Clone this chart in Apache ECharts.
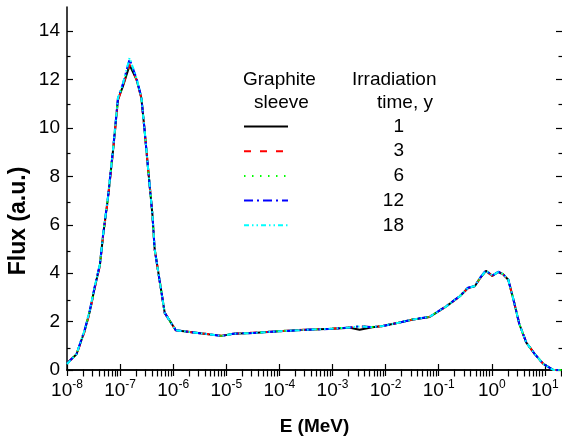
<!DOCTYPE html>
<html><head><meta charset="utf-8">
<script src="https://cdn.jsdelivr.net/npm/echarts@6/dist/echarts.min.js"></script>
<style>html,body{margin:0;padding:0;background:#fff}#c{width:562px;height:441px}</style>
</head><body><div id="c"></div>
<script>
// Energy (MeV)
const energy = [1.0e-8, 1.51e-8, 2.14e-8, 2.69e-8, 3.31e-8, 4.17e-8, 4.79e-8, 5.89e-8, 7.41e-8, 9.12e-8,
  1.12e-7, 1.51e-7, 2.04e-7, 2.51e-7, 2.88e-7, 3.39e-7, 4.07e-7, 4.47e-7, 6.92e-7, 1.12e-6,
  3.16e-6, 8.13e-6, 1.35e-5, 3.16e-5, 1.0e-4, 3.16e-4, 1.0e-3, 2.14e-3, 3.24e-3, 5.62e-3,
  8.91e-3, 1.74e-2, 3.31e-2, 6.76e-2, 0.141, 0.251, 0.355, 0.479, 0.603, 0.776,
  1.02, 1.32, 1.62, 2.04, 2.51, 3.31, 4.47, 6.46, 9.33, 14.5, 21];
// Flux (a.u.) for each irradiation time
const flux1 = [0.28, 0.65, 1.6, 2.43, 3.39, 4.34, 5.57, 7.08, 9.13, 11.18,
  11.7, 12.6, 12.0, 11.25, 9.95, 8.25, 6.4, 5.0, 2.36, 1.64,
  1.52, 1.41, 1.50, 1.53, 1.60, 1.66, 1.70, 1.75, 1.66, 1.77,
  1.82, 1.95, 2.09, 2.19, 2.64, 3.05, 3.39, 3.46, 3.80, 4.10,
  3.89, 4.05, 3.96, 3.73, 2.98, 1.89, 1.13, 0.66, 0.25, 0.0, 0.0];
const flux3 = [0.28, 0.64, 1.58, 2.40, 3.36, 4.32, 5.55, 7.05, 9.10, 11.15,
  11.72, 12.62, 12.0, 11.25, 9.95, 8.25, 6.4, 5.0, 2.36, 1.64,
  1.52, 1.42, 1.50, 1.54, 1.60, 1.67, 1.71, 1.76, 1.80, 1.77,
  1.82, 1.95, 2.09, 2.20, 2.64, 3.05, 3.38, 3.46, 3.80, 4.08,
  3.90, 4.04, 3.96, 3.73, 2.98, 1.89, 1.13, 0.66, 0.25, 0.0, 0.0];
const flux6 = [0.28, 0.66, 1.62, 2.45, 3.40, 4.36, 5.58, 7.10, 9.15, 11.20,
  11.75, 12.75, 12.0, 11.25, 9.95, 8.25, 6.4, 5.0, 2.36, 1.64,
  1.52, 1.41, 1.50, 1.53, 1.61, 1.66, 1.71, 1.76, 1.81, 1.78,
  1.83, 1.96, 2.10, 2.20, 2.65, 3.06, 3.40, 3.47, 3.81, 4.10,
  3.90, 4.05, 3.97, 3.73, 2.98, 1.89, 1.13, 0.66, 0.25, 0.0, 0.0];
const flux12 = [0.27, 0.66, 1.64, 2.47, 3.42, 4.38, 5.60, 7.12, 9.18, 11.25,
  11.8, 12.85, 12.05, 11.28, 9.95, 8.25, 6.4, 5.0, 2.36, 1.64,
  1.52, 1.41, 1.50, 1.53, 1.60, 1.66, 1.70, 1.76, 1.80, 1.77,
  1.82, 1.95, 2.09, 2.20, 2.65, 3.06, 3.40, 3.47, 3.82, 4.12,
  3.90, 4.06, 3.97, 3.74, 2.98, 1.89, 1.13, 0.66, 0.25, 0.0, 0.0];
const flux18 = [0.25, 0.66, 1.64, 2.47, 3.43, 4.38, 5.61, 7.13, 9.18, 11.25,
  11.8, 12.9, 12.05, 11.28, 9.95, 8.25, 6.4, 5.0, 2.36, 1.64,
  1.52, 1.41, 1.50, 1.53, 1.60, 1.66, 1.71, 1.76, 1.80, 1.77,
  1.82, 1.95, 2.09, 2.20, 2.64, 3.05, 3.39, 3.47, 3.81, 4.11,
  3.90, 4.05, 3.96, 3.74, 2.98, 1.89, 1.13, 0.66, 0.25, 0.0, 0.0];
const seriesNames = ['1', '3', '6', '12', '18'];
const seriesFlux = [flux1, flux3, flux6, flux12, flux18];
const xMajorTicks = [1e-8, 1e-7, 1e-6, 1e-5, 1e-4, 1e-3, 1e-2, 1e-1, 1e0, 1e1];
const yMajorTicks = [0, 2, 4, 6, 8, 10, 12, 14];
const yMinorTicks = [1, 3, 5, 7, 9, 11, 13];
const xMinorTicks = [];
for (let d = -8; d <= 1; d++) for (let m = 2; m <= 9; m++) { const v = m * Math.pow(10, d); if (v <= 21) xMinorTicks.push(v); }

const FONT = 'Liberation Sans, Arial, sans-serif';
const colors = ['#000000', '#ff0000', '#00ff00', '#0000ff', '#00ffff'];
const dashes = ['solid', [7, 9], [1.5, 6.5], [9, 4, 2, 4], [5, 3, 1.5, 3, 1.5, 3]];
const XMIN = 1e-8, XMAX = 21, YMIN = 0, YMAX = 15;
const axisLineStyle = { color: '#000', width: 1.5 };

function xAxisDef(gridIndex, position, ticks, len, showLine, showLabel) {
  const a = {
    type: 'log', logBase: 10, gridIndex, position, min: XMIN, max: XMAX,
    axisLine: { show: showLine, lineStyle: axisLineStyle },
    axisTick: { show: true, inside: true, length: len, customValues: ticks, lineStyle: { color: '#000', width: 1.2 } },
    axisLabel: { show: showLabel },
    splitLine: { show: false }, minorTick: { show: false }
  };
  if (showLabel) {
    a.axisLabel = {
      show: true, customValues: xMajorTicks, margin: 9, color: '#000',
      fontFamily: FONT, fontSize: 19,
      formatter: v => '{b|10}{s|' + Math.round(Math.log10(v)) + '}',
      rich: {
        b: { fontSize: 19, lineHeight: 23, fontFamily: FONT, color: '#000' },
        s: { fontSize: 12, lineHeight: 12, verticalAlign: 'top', fontFamily: FONT, color: '#000' }
      }
    };
    a.name = 'E (MeV)';
    a.nameLocation = 'middle';
    a.nameGap = 47;
    a.nameTextStyle = { fontFamily: FONT, fontSize: 19, fontWeight: 'bold', color: '#000' };
  }
  return a;
}
function yAxisDef(gridIndex, position, ticks, len, showLine, showLabel) {
  return {
    type: 'value', gridIndex, position, min: YMIN, max: YMAX,
    axisLine: { show: showLine, lineStyle: axisLineStyle },
    axisTick: { show: true, inside: true, length: len, customValues: ticks, lineStyle: { color: '#000', width: 1.2 } },
    axisLabel: showLabel ? { show: true, customValues: yMajorTicks, margin: 7, color: '#000', fontFamily: FONT, fontSize: 19 } : { show: false },
    splitLine: { show: false }
  };
}

const grid = { left: 67, right: 0, top: 7, bottom: 68, containLabel: false };
const chart = echarts.init(document.getElementById('c'), null, { renderer: 'canvas' });
chart.setOption({
  animation: false,
  backgroundColor: '#fff',
  grid: [Object.assign({}, grid), Object.assign({}, grid)],
  xAxis: [
    xAxisDef(0, 'bottom', xMajorTicks, 6, true, true),
    xAxisDef(0, 'top', xMajorTicks, 6, true, false),
    xAxisDef(1, 'bottom', xMinorTicks, 3.5, false, false),
    xAxisDef(1, 'top', xMinorTicks, 3.5, false, false)
  ],
  yAxis: [
    yAxisDef(0, 'left', yMajorTicks, 6, true, true),
    yAxisDef(0, 'right', yMajorTicks, 6, false, false),
    yAxisDef(1, 'left', yMinorTicks, 3.5, false, false),
    yAxisDef(1, 'right', yMinorTicks, 3.5, false, false)
  ],
  legend: {
    data: seriesNames, orient: 'vertical', left: 243, top: 117,
    itemWidth: 44, itemHeight: 14, itemGap: 5.7, padding: 0,
    itemStyle: { opacity: 0 },
    formatter: n => '{n|' + n + '}',
    textStyle: { fontFamily: FONT, fontSize: 19, color: '#000',
      rich: { n: { width: 111, align: 'right', fontFamily: FONT, fontSize: 19, color: '#000' } } },
    selectedMode: false
  },
  graphic: [
    { type: 'text', left: 243, top: 70, style: { text: 'Graphite', fontFamily: FONT, fontSize: 19, fill: '#000' } },
    { type: 'text', left: 254, top: 93, style: { text: 'sleeve', fontFamily: FONT, fontSize: 19, fill: '#000' } },
    { type: 'text', left: 352, top: 70, style: { text: 'Irradiation', fontFamily: FONT, fontSize: 19, fill: '#000' } },
    { type: 'text', left: 377, top: 93, style: { text: 'time, y', fontFamily: FONT, fontSize: 19, fill: '#000' } },
    { type: 'text', x: 19, y: 221, rotation: Math.PI / 2,
      style: { text: 'Flux (a.u.)', fontFamily: FONT, fontSize: 23, fontWeight: 'bold', fill: '#000', align: 'center', verticalAlign: 'middle' } }
  ],
  series: seriesNames.map((name, i) => ({
    name, type: 'line', xAxisIndex: 0, yAxisIndex: 0,
    data: energy.map((e, j) => [e, seriesFlux[i][j]]),
    symbol: 'none', showSymbol: false, smooth: false, z: 2 + i,
    lineStyle: { color: colors[i], width: 2, type: dashes[i] },
    itemStyle: { color: colors[i] }
  }))
});
</script>
</body></html>
